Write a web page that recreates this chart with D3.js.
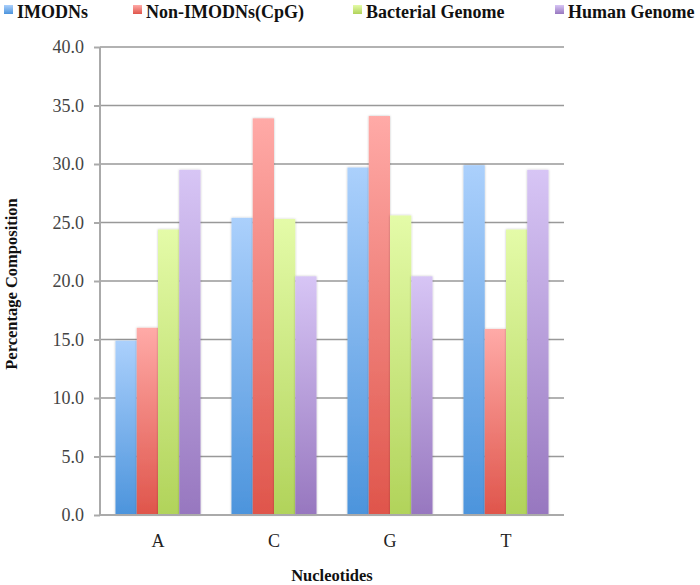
<!DOCTYPE html>
<html>
<head>
<meta charset="utf-8">
<script src="https://cdn.jsdelivr.net/npm/d3@7"></script>
<style>
  html, body { margin: 0; padding: 0; background: #fff; }
  svg { display: block; }
</style>
</head>
<body>
<svg id="chart" width="700" height="585"></svg>
<script>
const categories = ["A", "C", "G", "T"];
const seriesNames = ["IMODNs", "Non-IMODNs(CpG)", "Bacterial Genome", "Human Genome"];
const imodns      = [14.9, 25.4, 29.7, 29.9];
const nonImodns   = [16.0, 33.9, 34.1, 15.9];
const bacterial   = [24.4, 25.3, 25.6, 24.4];
const human       = [29.5, 20.4, 20.4, 29.5];
const yTicks = [0, 5, 10, 15, 20, 25, 30, 35, 40];
const topColors    = ["#abd0fc", "#ffaaa7", "#e4fba8", "#d7c5f5"];
const bottomColors = ["#4c94dc", "#df554b", "#b1d35a", "#9777bf"];

const seriesValues = [imodns, nonImodns, bacterial, human];

const svg = d3.select("#chart");
const plot = { left: 100, right: 564, top: 47, bottom: 515 };

const y = d3.scaleLinear().domain([0, 40]).range([plot.bottom, plot.top]);
const x0 = d3.scaleBand().domain(categories).range([plot.left, plot.right])
  .paddingInner(0.267).paddingOuter(0.1335);
const x1 = d3.scaleBand().domain(d3.range(seriesNames.length)).range([0, x0.bandwidth()]).padding(0);

// gradients
const defs = svg.append("defs");
seriesNames.forEach((s, i) => {
  const g = defs.append("linearGradient").attr("id", "grad" + i)
    .attr("x1", 0).attr("y1", 0).attr("x2", 0).attr("y2", 1);
  g.append("stop").attr("offset", "0%").attr("stop-color", topColors[i]);
  g.append("stop").attr("offset", "100%").attr("stop-color", bottomColors[i]);
});
const f = defs.append("filter").attr("id", "shadow").attr("x", "-20%").attr("y", "-5%").attr("width", "140%").attr("height", "110%");
f.append("feDropShadow").attr("dx", 0).attr("dy", 0).attr("stdDeviation", 0.8)
  .attr("flood-color", "#000").attr("flood-opacity", 0.25);

// gridlines
svg.append("g").selectAll("line").data(yTicks.filter(d => d > 0)).join("line")
  .attr("x1", plot.left).attr("x2", plot.right)
  .attr("y1", d => y(d)).attr("y2", d => y(d))
  .attr("stroke", "#999").attr("stroke-width", 1.5);

// y axis
const yAxis = d3.axisLeft(y).tickValues(yTicks).tickFormat(d3.format(".1f")).tickSize(6).tickPadding(10);
const gy = svg.append("g").attr("transform", `translate(${plot.left},0)`).call(yAxis);
gy.select(".domain").attr("stroke", "#aaa").attr("stroke-width", 2).attr("d", `M0,${plot.top}V${plot.bottom}`);
gy.selectAll(".tick line").attr("stroke", "#aaa").attr("stroke-width", 2);
gy.selectAll(".tick text").attr("fill", "#444")
  .style("font-family", "'Liberation Serif', 'Times New Roman', serif").style("font-size", "18px");

// bars
const groups = svg.append("g").selectAll("g").data(categories).join("g")
  .attr("transform", d => `translate(${x0(d)},0)`);
groups.selectAll("rect")
  .data((c, ci) => seriesValues.map((vals, si) => ({ si, v: vals[ci] })))
  .join("rect")
  .attr("x", d => x1(d.si))
  .attr("width", x1.bandwidth())
  .attr("y", d => y(d.v))
  .attr("height", d => y(0) - y(d.v))
  .attr("fill", d => `url(#grad${d.si})`)
  .attr("filter", "url(#shadow)");

// x axis
const xAxis = d3.axisBottom(x0).tickSize(0).tickPadding(19);
const gx = svg.append("g").attr("transform", `translate(0,${plot.bottom})`).call(xAxis);
gx.select(".domain").attr("stroke", "#aaa").attr("stroke-width", 2).attr("d", `M${plot.left},0H${plot.right}`);
gx.selectAll(".tick text").attr("fill", "#222")
  .style("font-family", "'Liberation Serif', 'Times New Roman', serif").style("font-size", "18px");

// axis titles
svg.append("text").attr("x", (plot.left + plot.right) / 2).attr("y", 581)
  .attr("text-anchor", "middle").attr("fill", "#111")
  .style("font-family", "'Liberation Serif', 'Times New Roman', serif")
  .style("font-weight", "bold").style("font-size", "16.5px").text("Nucleotides");
svg.append("text").attr("transform", `translate(17,${(plot.top + plot.bottom) / 2 + 3}) rotate(-90)`)
  .attr("text-anchor", "middle").attr("fill", "#111")
  .style("font-family", "'Liberation Serif', 'Times New Roman', serif")
  .style("font-weight", "bold").style("font-size", "16.5px").text("Percentage Composition");

// legend
const legendX = [4, 133, 353, 555];
const legend = svg.append("g").selectAll("g").data(seriesNames).join("g")
  .attr("transform", (d, i) => `translate(${legendX[i]},0)`);
legend.append("rect").attr("x", 0).attr("y", 5).attr("width", 9).attr("height", 9)
  .attr("fill", (d, i) => `url(#grad${i})`);
legend.append("text").attr("x", 13).attr("y", 18).attr("fill", "#111")
  .style("font-family", "'Liberation Serif', 'Times New Roman', serif")
  .style("font-weight", "bold").style("font-size", "18px").text(d => d);
</script>
</body>
</html>
